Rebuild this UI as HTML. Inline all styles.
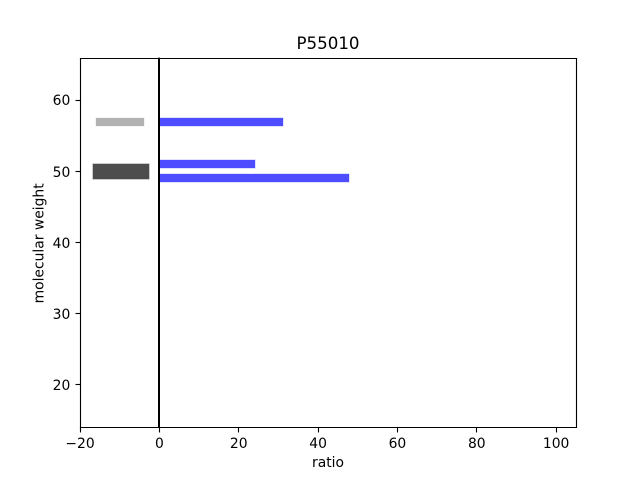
<!DOCTYPE html>
<html>
<head>
<meta charset="utf-8">
<title>P55010</title>
<style>
html,body{margin:0;padding:0;background:#fff;}
svg{display:block;}
text{font-family:"DejaVu Sans","Liberation Sans",sans-serif;fill:#000;}
</style>
</head>
<body>
<svg id="chart" width="640" height="480" viewBox="0 0 640 480" xmlns="http://www.w3.org/2000/svg">
<rect x="0" y="0" width="640" height="480" fill="#fff"/>
<g id="bars"></g>
<line id="zero" stroke="#000" stroke-width="2"/>
<g id="axes"></g>
<text x="328" y="49" font-size="16.67" text-anchor="middle">P55010</text>
<text x="328" y="467" font-size="13.89" text-anchor="middle">ratio</text>
<text transform="translate(43.5,243.4) rotate(-90)" font-size="13.89" text-anchor="middle">molecular weight</text>
</svg>
<script>
const xDomain = [-20, 105];
const yDomain = [14, 66];
const xTicks = [-20, 0, 20, 40, 60, 80, 100];
const yTicks = [20, 30, 40, 50, 60];

const blueWeights = [57, 51, 49];
const blueRatios = [31, 24, 47.7];
const blueThickness = [1, 1, 1];

const lightWeights = [57];
const lightStart = [-16];
const lightEnd = [-4];
const lightThickness = [1];

const darkWeights = [50];
const darkStart = [-16.8];
const darkEnd = [-2.8];
const darkThickness = [2];

const plotLeft = 80, plotRight = 576, plotTop = 57.6, plotBottom = 427.2;
const NS = 'http://www.w3.org/2000/svg';

function xScale(v) {
  return plotLeft + (v - xDomain[0]) / (xDomain[1] - xDomain[0]) * (plotRight - plotLeft);
}
function yScale(v) {
  return plotBottom - (v - yDomain[0]) / (yDomain[1] - yDomain[0]) * (plotBottom - plotTop);
}
function snap(p) {
  return Math.floor(p) + 0.5;
}
function makeBar(x0, x1, mw, thick, color, edgeOpacity) {
  const r = document.createElementNS(NS, 'rect');
  const a = Math.round(xScale(x0)), b = Math.ceil(xScale(x1));
  const t = Math.floor(yScale(mw + thick / 2)), u = Math.ceil(yScale(mw - thick / 2));
  r.setAttribute('x', a);
  r.setAttribute('y', t);
  r.setAttribute('width', b - a);
  r.setAttribute('height', u - t);
  r.setAttribute('fill', color);
  r.setAttribute('stroke', color);
  r.setAttribute('stroke-opacity', edgeOpacity);
  r.setAttribute('stroke-width', '1');
  document.getElementById('bars').appendChild(r);
  return r;
}
function makeLine(x1, y1, x2, y2, parent) {
  const l = document.createElementNS(NS, 'line');
  l.setAttribute('x1', x1);
  l.setAttribute('y1', y1);
  l.setAttribute('x2', x2);
  l.setAttribute('y2', y2);
  l.setAttribute('stroke', '#000');
  l.setAttribute('stroke-width', '1.11');
  l.setAttribute('stroke-linecap', 'square');
  parent.appendChild(l);
  return l;
}
function makeLabel(x, y, str, anchor, parent) {
  const t = document.createElementNS(NS, 'text');
  t.setAttribute('x', x);
  t.setAttribute('y', y);
  t.setAttribute('font-size', '13.89');
  t.setAttribute('text-anchor', anchor);
  t.textContent = str;
  parent.appendChild(t);
  return t;
}

lightWeights.forEach(function (mw, i) {
  const bar = makeBar(lightStart[i], lightEnd[i], mw, lightThickness[i], '#b2b2b2', '0.3');
  
  
});
darkWeights.forEach(function (mw, i) {
  const bar = makeBar(darkStart[i], darkEnd[i], mw, darkThickness[i], '#4d4d4d', '0.6');
  
  
});
blueWeights.forEach(function (mw, i) {
  const bar = makeBar(0, blueRatios[i], mw, blueThickness[i], '#4d4dff', '0.35');
  
  
});

const zero = document.getElementById('zero');
zero.setAttribute('x1', Math.round(xScale(0)));
zero.setAttribute('x2', Math.round(xScale(0)));
zero.setAttribute('y1', plotTop);
zero.setAttribute('y2', plotBottom);

const axes = document.getElementById('axes');
const L = snap(plotLeft), R = snap(plotRight), T = snap(plotTop + 0.5), B = snap(plotBottom);

const spineLeft = makeLine(L, T, L, B, axes);


const spineRight = makeLine(R, T, R, B, axes);


const spineTop = makeLine(L, T, R, T, axes);


const spineBottom = makeLine(L, B, R, B, axes);



xTicks.forEach(function (v) {
  const px = snap(xScale(v));
  const tick = makeLine(px, B, px, B + 4.4, axes);
  
  
  const label = makeLabel(xScale(v), 448, String(v).replace('-', '\u2212'), 'middle', axes);
  
  
});
yTicks.forEach(function (v) {
  const py = snap(yScale(v));
  const tick = makeLine(L - 4.4, py, L, py, axes);
  
  
  const label = makeLabel(70.3, Math.round(yScale(v) + 5.2), String(v), 'end', axes);
  
  
});
</script>
</body>
</html>
